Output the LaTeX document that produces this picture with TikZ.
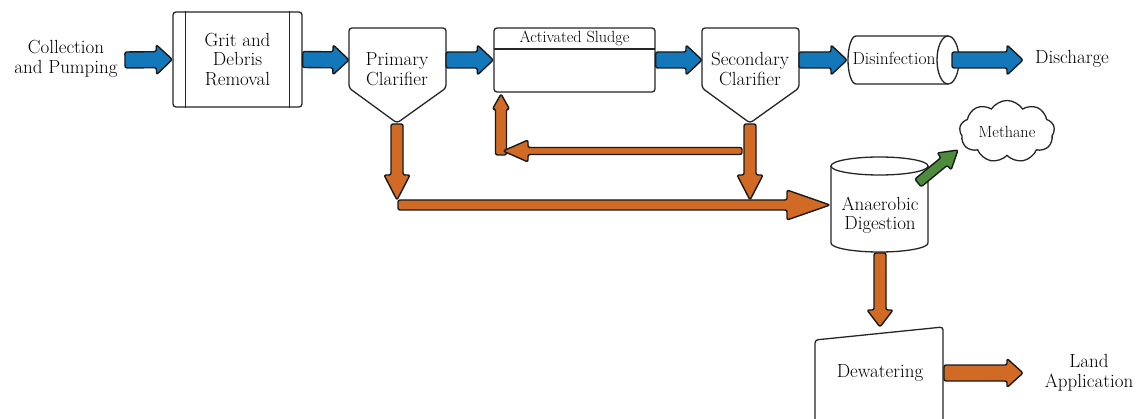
\documentclass[tikz,border=0pt]{standalone}
\usepackage{fontspec}
\usetikzlibrary{calc,shapes.symbols}
\definecolor{flowblue}{RGB}{19,120,185}
\definecolor{floworange}{RGB}{208,106,37}
\definecolor{flowgreen}{RGB}{76,140,60}
\newcommand\fatarrow[6]{%
  \path let \p1=(#2), \p2=(#3) in \pgfextra{%
    \pgfmathsetmacro\faang{atan2(\y2-\y1,\x2-\x1)}%
    \pgfmathsetmacro\falen{veclen(\x2-\x1,\y2-\y1)}%
    \pgfmathsetmacro\fabase{\falen-#6}%
    \xdef\faang{\faang}\xdef\falen{\falen}\xdef\fabase{\fabase}%
    \xdef\fax{\x1}\xdef\fay{\y1}};
  \draw[#1] [shift={(\fax,\fay)}, rotate=\faang]
    (0pt,#4pt) -- (\fabase pt,#4pt) -- (\fabase pt,#5pt) -- (\falen pt,0pt)
    -- (\fabase pt,-#5pt) -- (\fabase pt,-#4pt) -- (0pt,-#4pt) -- cycle;
}
\tikzset{
  every node/.style={font=\fontsize{19}{19.5}\selectfont, align=center, inner sep=0pt},
  smalltext/.style={font=\fontsize{16.2}{18}\selectfont},
  shapeline/.style={draw=black!85, line width=1.3pt, fill=white},
  fa/.style={draw=black!90, line width=1.4pt, rounded corners=2pt, line join=round},
  bluearrow/.style={fa, fill=flowblue},
  orangearrow/.style={fa, fill=floworange},
  greenarrow/.style={fa, fill=flowgreen},
}
\begin{document}
\begin{tikzpicture}[x=1pt,y=-1pt]
\useasboundingbox (0,0) rectangle (1139,419);
\fill[white] (0,0) rectangle (1139,419);

% labels
\node (coll) at (66,59) {Collection\\and Pumping};
\node (disch) at (1072,59) {Discharge};
\node (land) at (1089,373) {Land\\Application};

% Grit box
\node[shapeline, rounded corners=3pt, minimum width=129, minimum height=95] (grit) at (237.5,59.5) {Grit and\\Debris\\Removal};
\draw[black!85, line width=1.3pt] ([xshift=13pt]grit.north west) -- ([xshift=13pt]grit.south west);
\draw[black!85, line width=1.3pt] ([xshift=-13pt]grit.north east) -- ([xshift=-13pt]grit.south east);

% Primary clarifier
\draw[shapeline, rounded corners=3pt] (349,28) -- (446,28) -- (446,88) -- (397,123) -- (349,88) -- cycle;
\node (pc) at (397,69) {Primary\\Clarifier};
\coordinate (pcW) at (349,60);
\coordinate (pcE) at (446,60);
\coordinate (pcS) at (397,124);

% Activated sludge
\node[shapeline, rounded corners=3pt, minimum width=161, minimum height=64] (as) at (574.5,60) {};
\draw[black!85, line width=1.3pt] (494,49) -- (655,49);
\node[smalltext] (astitle) at (574.5,38) {Activated Sludge};
\coordinate (asS) at (501,94);

% Secondary clarifier
\draw[shapeline, rounded corners=3pt] (702,28) -- (799,28) -- (799,88) -- (750,123) -- (702,88) -- cycle;
\node (sc) at (750,69) {Secondary\\Clarifier};
\coordinate (scW) at (702,60);
\coordinate (scE) at (799,60);
\coordinate (scS) at (750,124);

% Disinfection cylinder
\draw[shapeline] (856,36) -- (948,36) arc[start angle=90, end angle=-90, x radius=11pt, y radius=24pt]
  -- (856,84) arc[start angle=270, end angle=90, x radius=8pt, y radius=24pt] -- cycle;
\draw[black!85, line width=1.3pt] (948,36) arc[start angle=90, end angle=270, x radius=11pt, y radius=24pt];
\node[font=\fontsize{17.5}{19}\selectfont] (dis) at (894,58) {Disinfection};
\coordinate (disW) at (847,60);
\coordinate (disE) at (952,60);
\coordinate (dischW) at (1023,60);

% Anaerobic digestion cylinder
\draw[shapeline] (831,166) -- (831,243) arc[start angle=180, end angle=360, x radius=48.5pt, y radius=9pt] -- (928,166);
\draw[shapeline] (879.5,166) ellipse[x radius=48.5pt, y radius=9pt];
\node (dig) at (880,215) {Anaerobic\\Digestion};
\coordinate (digW) at (830,205);
\coordinate (digS) at (880,253);
\coordinate (digNE) at (918,183);

% Methane cloud
\node[shapeline, cloud, cloud puffs=9, cloud puff arc=115, aspect=1.6, minimum width=95pt, minimum height=61pt, smalltext] (meth) at (1007,131.5) {Methane};
\coordinate (methW) at (958,150);

% Dewatering
\draw[shapeline, rounded corners=3pt] (815,425) -- (815,340) -- (943,327) -- (943,425);
\node (dew) at (880,373) {Dewatering};
\coordinate (dewN) at (880,327);
\coordinate (dewE) at (944,373);
\coordinate (landW) at (1023,373);

% blue arrows
\fatarrow{bluearrow}{125,60}{grit.west}{8}{15}{16}
\fatarrow{bluearrow}{grit.east}{pcW}{8}{15}{16}
\fatarrow{bluearrow}{pcE}{as.west}{8}{15}{16}
\fatarrow{bluearrow}{as.east}{scW}{8}{15}{16}
\fatarrow{bluearrow}{scE}{disW}{8}{15}{16}
\fatarrow{bluearrow}{disE}{dischW}{8}{15}{16}

% orange arrows
\fatarrow{orangearrow}{pcS}{397,200}{6}{13}{25}
\fatarrow{orangearrow}{398,205}{digW}{5}{15}{43}
\fatarrow{orangearrow}{scS}{750,200}{6}{13}{25}
\fatarrow{orangearrow}{501,155}{asS}{5.5}{8.5}{15}
\fatarrow{orangearrow}{742,151}{503,151}{3.5}{11}{25}
\fatarrow{orangearrow}{digS}{dewN}{6}{13}{17}
\fatarrow{orangearrow}{dewE}{landW}{8}{14.5}{16}

% green arrow
\fatarrow{greenarrow}{digNE}{methW}{5}{11}{18}
\end{tikzpicture}
\end{document}
